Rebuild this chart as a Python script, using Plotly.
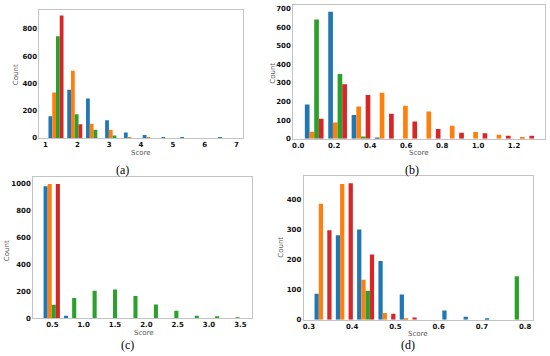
import plotly.graph_objects as go

# ---------------- data ----------------
series_colors = ["#1f77b4", "#ff7f0e", "#2ca02c", "#d62728"]
series_names = ["S1", "S2", "S3", "S4"]

# (a)
a_bins = [1.33, 1.92, 2.51, 3.11, 3.70, 4.29, 4.88, 5.47, 6.07, 6.66]
a_blue = [159, 354, 289, 130, 39, 22, 3, 2, 0, 1]
a_orange = [333, 494, 104, 60, 5, 1, 0, 0, 0, 0]
a_green = [747, 173, 60, 17, 0, 0, 0, 0, 0, 0]
a_red = [899, 101, 0, 0, 0, 0, 0, 0, 0, 0]

# (b)
b_bins = [0.089, 0.219, 0.349, 0.479, 0.609, 0.739, 0.869, 0.999, 1.129, 1.259]
b_blue = [184, 684, 128, 7, 0, 0, 0, 0, 0, 0]
b_orange = [37, 87, 173, 248, 178, 146, 70, 36, 21, 9]
b_green = [642, 348, 12, 0, 0, 0, 0, 0, 0, 0]
b_red = [107, 294, 235, 134, 93, 53, 32, 30, 16, 16]

# (c)
c_bins = [0.49, 0.816, 1.142, 1.468, 1.794, 2.12, 2.446, 2.772, 3.098, 3.424]
c_blue = [983, 17, 0, 0, 0, 0, 0, 0, 0, 0]
c_orange = [1000, 0, 0, 0, 0, 0, 0, 0, 0, 0]
c_green = [99, 150, 204, 214, 165, 101, 54, 17, 7, 2]
c_red = [1000, 0, 0, 0, 0, 0, 0, 0, 0, 0]

# (d)
d_bins = [0.3326, 0.3819, 0.4311, 0.4804, 0.5296, 0.5789, 0.6282, 0.6774, 0.7267, 0.7759]
d_blue = [87, 282, 301, 196, 84, 0, 31, 10, 5, 0]
d_orange = [387, 453, 133, 22, 3, 0, 0, 0, 0, 0]
d_green = [0, 0, 97, 0, 0, 0, 0, 0, 0, 145]
d_red = [299, 456, 218, 20, 7, 0, 0, 0, 0, 0]

panel_labels = ["(a)", "(b)", "(c)", "(d)"]
x_label = "Score"
y_label = "Count"

a_xticks = [1, 2, 3, 4, 5, 6, 7]
b_xticks = [0.0, 0.2, 0.4, 0.6, 0.8, 1.0, 1.2]
c_xticks = [0.5, 1.0, 1.5, 2.0, 2.5, 3.0, 3.5]
d_xticks = [0.3, 0.4, 0.5, 0.6, 0.7, 0.8]
a_yticks = [0, 200, 400, 600, 800]
b_yticks = [0, 100, 200, 300, 400, 500, 600, 700]
c_yticks = [0, 200, 400, 600, 800, 1000]
d_yticks = [0, 100, 200, 300, 400]

# ---------------- layout helpers ----------------
W, H = 550, 356


def px_x(p):
    return p / W


def px_y(p):
    return 1 - p / H


panels = [
    dict(bins=a_bins, vals=[a_blue, a_orange, a_green, a_red],
         xdom=(38.5, 242), ydom=(10, 139.5), xr=[0.81, 7.19], yr=[0, 940],
         xt=a_xticks, xtt=[str(v) for v in a_xticks], yt=a_yticks,
         count=(15, 75), score=(140, 155), lab=(122, 172)),
    dict(bins=b_bins, vals=[b_blue, b_orange, b_green, b_red],
         xdom=(292.7, 545), ydom=(5.5, 140.3), xr=[-0.028, 1.372], yr=[0, 718],
         xt=b_xticks, xtt=["%.1f" % v for v in b_xticks], yt=b_yticks,
         count=(273, 74), score=(419, 155), lab=(412, 172)),
    dict(bins=c_bins, vals=[c_blue, c_orange, c_green, c_red],
         xdom=(32.3, 251.7), ydom=(179.3, 321.7), xr=[0.195, 3.69], yr=[0, 1050],
         xt=c_xticks, xtt=["%.1f" % v for v in c_xticks], yt=c_yticks,
         count=(6, 253), score=(143, 337), lab=(127, 349)),
    dict(bins=d_bins, vals=[d_blue, d_orange, d_green, d_red],
         xdom=(303.3, 533.3), ydom=(178.3, 323.3), xr=[0.288, 0.819], yr=[0, 479],
         xt=d_xticks, xtt=["%.1f" % v for v in d_xticks], yt=d_yticks,
         count=(281, 250), score=(418, 337.5), lab=(408, 349)),
]

fig = go.Figure()
annotations = []
tickfont = dict(family="DejaVu Sans", size=7, color="#111111", weight="bold")
titlefont = dict(family="DejaVu Sans", size=7, color="#555555")

for i, p in enumerate(panels):
    n = "" if i == 0 else str(i + 1)
    xa, ya = "x" + n, "y" + n
    for s in range(4):
        fig.add_trace(go.Bar(
            x=p["bins"], y=p["vals"][s], name=series_names[s],
            marker=dict(color=series_colors[s], line=dict(width=0)),
            xaxis=xa, yaxis=ya, showlegend=False,
        ))
    axis_common = dict(showline=True, mirror=True, linecolor="#c4c4c4", linewidth=1,
                       showgrid=False, zeroline=False, ticks="",
                       tickfont=tickfont)
    fig.layout["xaxis" + n] = dict(
        domain=[px_x(p["xdom"][0]), px_x(p["xdom"][1])], range=p["xr"],
        tickmode="array", tickvals=p["xt"], ticktext=p["xtt"],
        anchor=ya, **axis_common)
    fig.layout["yaxis" + n] = dict(
        domain=[px_y(p["ydom"][1]), px_y(p["ydom"][0])], range=p["yr"],
        tickmode="array", tickvals=p["yt"], ticktext=[str(v) for v in p["yt"]],
        anchor=xa, **axis_common)
    annotations.append(dict(text=y_label, x=px_x(p["count"][0]), y=px_y(p["count"][1]),
                            xref="paper", yref="paper", showarrow=False, textangle=-90,
                            font=titlefont, xanchor="center", yanchor="middle"))
    annotations.append(dict(text=x_label, x=px_x(p["score"][0]), y=px_y(p["score"][1]),
                            xref="paper", yref="paper", showarrow=False,
                            font=titlefont, xanchor="center", yanchor="middle"))
    annotations.append(dict(text=panel_labels[i], x=px_x(p["lab"][0]), y=px_y(p["lab"][1]),
                            xref="paper", yref="paper", showarrow=False,
                            font=dict(family="Liberation Serif", size=12, color="#000000"),
                            xanchor="center", yanchor="middle"))

fig.update_layout(
    width=W, height=H, margin=dict(l=0, r=0, t=0, b=0),
    paper_bgcolor="white", plot_bgcolor="white",
    barmode="group", bargap=0.2, bargroupgap=0,
    annotations=annotations,
)

fig.write_html("out.html", config={"displayModeBar": False},
               post_script="document.body.style.margin='0';document.body.style.overflow='hidden';")
